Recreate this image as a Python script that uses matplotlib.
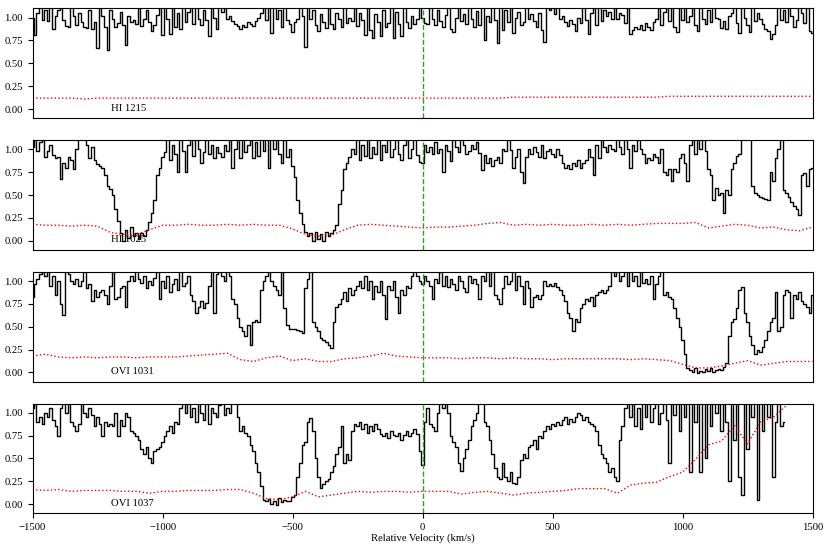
"""
plot.py - stacked velocity plots (HI / OVI) with error spectra
"""

import numpy as np
import matplotlib
matplotlib.use("Agg")
import matplotlib.pyplot as plt

plt.rcParams["font.family"] = ["Liberation Serif", "DejaVu Serif"]
plt.rcParams["font.size"] = 7.7

# velocity grids (km/s): start + step * index
FLUX_V0, FLUX_STEP = -1500, 10
ERR_V0, ERR_STEP = -1500, 50

line_names = ["HI 1215", "HI 1025", "OVI 1031", "OVI 1037"]

# ------------------------------------------------------------
#  normalised flux, one value per 10 km/s bin
# ------------------------------------------------------------
flux_hi1215 = [
    1.00, 0.81, 1.05, 1.12, 0.97, 1.08, 0.96, 1.12, 0.88, 1.02,
    1.08, 1.12, 0.97, 0.91, 0.90, 1.12, 1.02, 0.92, 1.05, 0.95,
    0.90, 0.89, 1.08, 0.88, 0.95, 0.67, 1.12, 1.02, 0.90, 0.65,
    1.08, 0.99, 0.90, 0.94, 1.06, 0.92, 0.70, 1.02, 0.95, 0.97,
    0.93, 1.12, 0.91, 0.98, 1.08, 0.95, 0.85, 0.92, 1.03, 1.12,
    0.81, 1.12, 0.98, 0.82, 1.12, 0.90, 1.05, 0.88, 1.12, 0.95,
    1.06, 1.12, 0.93, 1.12, 0.98, 0.92, 1.08, 0.97, 0.80, 1.12,
    1.00, 0.88, 1.12, 1.06, 1.12, 0.98, 1.02, 0.96, 0.93, 0.91,
    0.88, 0.92, 0.90, 0.95, 0.93, 0.91, 0.96, 1.00, 1.05, 1.12,
    0.97, 1.12, 0.83, 1.12, 0.99, 1.08, 0.90, 1.12, 0.97, 0.93,
    0.84, 0.95, 0.99, 1.12, 1.02, 0.68, 1.12, 0.98, 1.08, 0.92,
    0.85, 1.04, 0.95, 0.89, 1.12, 0.93, 0.88, 1.05, 0.98, 0.90,
    1.12, 0.94, 1.00, 0.96, 1.12, 0.91, 1.05, 0.97, 0.81, 1.12,
    0.86, 0.78, 1.04, 0.95, 0.80, 1.08, 0.90, 0.94, 1.12, 0.78,
    1.06, 0.93, 0.80, 1.12, 0.95, 0.89, 1.02, 0.93, 0.98, 1.12,
    1.00, 0.94, 0.93, 1.12, 0.98, 0.92, 1.08, 0.96, 0.90, 1.03,
    1.12, 0.88, 0.84, 1.00, 1.12, 0.96, 1.04, 0.93, 1.12, 0.98,
    0.90, 1.07, 0.92, 1.12, 0.75, 1.02, 0.95, 1.12, 0.97, 0.72,
    1.12, 0.86, 1.08, 0.95, 1.12, 0.83, 1.00, 1.06, 0.92, 0.95,
    1.12, 0.98, 1.04, 0.96, 0.90, 1.05, 0.87, 0.73, 1.12, 1.08,
    1.12, 1.04, 1.12, 0.98, 1.02, 0.95, 0.91, 0.97, 0.93, 0.85,
    1.00, 0.94, 1.12, 0.97, 0.82, 1.05, 1.12, 0.92, 1.12, 0.96,
    1.08, 1.02, 1.06, 0.98, 1.12, 0.99, 1.05, 1.03, 0.94, 1.12,
    0.82, 0.86, 0.90, 0.88, 0.92, 0.87, 0.94, 0.90, 0.86, 0.95,
    0.98, 1.12, 0.92, 1.06, 1.12, 0.96, 1.12, 0.90, 0.84, 1.12,
    0.97, 1.12, 0.95, 1.02, 1.12, 0.92, 0.85, 1.12, 0.98, 0.93,
    1.08, 0.95, 1.12, 1.00, 0.98, 0.89, 0.96, 0.88, 1.02, 1.05,
    1.12, 0.94, 0.83, 1.12, 1.00, 0.92, 0.84, 1.12, 0.96, 1.05,
    0.98, 0.93, 0.88, 0.85, 0.77, 0.82, 0.92, 1.12, 0.97, 1.08,
    0.95, 1.12, 1.02, 0.90, 0.97, 1.12, 1.05, 0.94, 1.12, 0.85,
    0.83,
]

flux_hi1025 = [
    1.02, 1.12, 0.98, 1.08, 1.12, 0.92, 0.98, 1.05, 0.94, 0.90,
    0.92, 0.68, 0.85, 0.80, 0.92, 0.88, 0.79, 1.00, 1.12, 1.12,
    1.12, 1.05, 0.90, 1.02, 0.88, 0.84, 0.82, 0.80, 0.72, 0.60,
    0.57, 0.50, 0.35, 0.22, 0.08, 0.00, 0.12, 0.03, 0.15, 0.05,
    0.09, 0.02, 0.08, 0.05, 0.12, 0.20, 0.30, 0.45, 0.72, 0.80,
    0.92, 0.97, 1.12, 0.88, 1.05, 0.95, 0.75, 1.12, 0.98, 0.75,
    1.05, 1.12, 0.93, 1.12, 1.00, 0.85, 0.97, 1.12, 0.95, 1.05,
    0.90, 1.02, 0.96, 0.92, 1.05, 0.98, 1.12, 0.80, 1.00, 1.12,
    0.90, 1.12, 0.97, 1.05, 1.12, 0.90, 1.08, 0.93, 1.12, 0.98,
    1.12, 0.80, 1.12, 1.00, 1.12, 0.95, 0.85, 1.10, 0.92, 1.00,
    0.82, 0.70, 0.45, 0.30, 0.18, 0.10, 0.05, 0.08, 0.00, 0.10,
    0.02, 0.07, 0.00, 0.10, 0.05, 0.08, 0.12, 0.17, 0.40, 0.55,
    0.78, 0.85, 0.92, 1.00, 0.95, 1.12, 0.88, 1.05, 0.93, 1.12,
    0.90, 1.02, 0.95, 1.12, 0.88, 1.05, 0.97, 1.12, 0.92, 1.00,
    1.12, 0.95, 0.88, 1.05, 1.12, 0.90, 1.00, 1.12, 0.94, 0.86,
    0.85, 1.05, 0.97, 1.02, 0.95, 1.08, 0.96, 1.00, 0.75, 1.05,
    0.98, 0.87, 1.12, 1.02, 0.97, 1.12, 1.05, 0.95, 0.98, 1.05,
    1.00, 1.08, 0.96, 0.77, 0.94, 0.85, 0.90, 0.82, 0.88, 0.92,
    0.85, 1.00, 0.98, 1.12, 0.99, 0.80, 0.92, 1.00, 0.75, 0.63,
    0.92, 1.00, 0.95, 1.02, 0.97, 0.92, 1.05, 0.90, 0.98, 1.00,
    0.95, 0.92, 1.00, 0.94, 0.85, 0.80, 0.83, 0.78, 0.85, 0.82,
    0.88, 0.80, 0.85, 0.88, 1.00, 0.92, 0.72, 1.05, 0.90, 1.12,
    1.02, 0.97, 1.05, 1.00, 0.98, 1.12, 1.03, 0.95, 1.12, 1.00,
    0.80, 1.05, 0.98, 1.12, 1.00, 0.95, 0.85, 0.90, 0.88, 0.95,
    0.92, 0.85, 1.00, 0.75, 0.72, 0.78, 0.65, 0.78, 0.75, 0.90,
    0.95, 0.85, 0.65, 1.05, 1.12, 0.95, 1.12, 1.00, 1.12, 0.98,
    0.78, 0.72, 0.45, 0.58, 0.50, 0.52, 0.30, 0.55, 0.50, 0.78,
    0.85, 0.93, 0.95, 1.12, 1.12, 1.12, 1.12, 0.60, 0.52, 0.50,
    0.48, 0.47, 0.46, 0.45, 0.75, 0.65, 0.90, 1.00, 1.12, 0.55,
    0.52, 0.48, 0.42, 0.38, 0.35, 0.28, 0.72, 0.74, 0.60, 0.78,
    0.80,
]

flux_ovi1031 = [
    0.83, 0.97, 1.02, 1.08, 1.12, 1.05, 1.12, 0.95, 1.06, 0.85,
    1.00, 0.75, 0.63, 1.12, 1.08, 1.00, 0.97, 1.02, 0.95, 1.00,
    1.12, 0.92, 0.97, 0.78, 0.90, 0.82, 0.88, 0.90, 0.85, 0.75,
    0.95, 1.12, 0.80, 0.82, 0.92, 0.95, 0.72, 1.00, 1.05, 1.00,
    1.12, 1.02, 0.98, 1.05, 0.92, 1.00, 0.96, 1.03, 1.12, 0.80,
    1.00, 0.92, 1.05, 0.88, 0.97, 1.02, 0.90, 1.12, 0.95, 0.98,
    1.05, 0.85, 0.78, 0.65, 0.72, 0.78, 0.70, 0.76, 0.95, 1.12,
    0.65, 1.08, 1.12, 1.05, 1.00, 1.12, 1.05, 0.80, 0.75, 0.60,
    0.50, 0.45, 0.40, 0.52, 0.30, 0.55, 0.57, 0.55, 0.90, 1.00,
    1.05, 1.12, 1.00, 0.95, 0.90, 0.85, 1.12, 0.70, 0.52, 0.47,
    0.48, 0.47, 0.46, 0.45, 0.43, 0.92, 1.02, 1.12, 0.55, 0.50,
    0.45, 0.38, 0.35, 0.33, 0.30, 0.27, 0.55, 0.72, 0.75, 0.80,
    0.88, 0.78, 0.92, 0.85, 0.90, 0.95, 1.00, 0.92, 1.05, 0.90,
    1.00, 0.80, 0.95, 0.88, 1.00, 0.85, 0.58, 0.95, 0.90, 1.00,
    0.82, 0.65, 0.90, 0.85, 0.95, 0.92, 1.05, 1.12, 1.05, 1.00,
    0.97, 1.05, 1.00, 0.95, 0.80, 1.02, 0.98, 1.10, 0.95, 1.05,
    0.93, 1.02, 0.97, 0.90, 1.05, 1.00, 0.92, 0.88, 1.05, 0.98,
    1.02, 0.97, 0.80, 1.05, 1.00, 1.12, 0.95, 1.12, 0.85, 0.80,
    0.75, 0.92, 1.05, 0.97, 1.00, 1.12, 0.90, 1.05, 0.95, 0.75,
    1.00, 0.92, 0.72, 0.82, 0.85, 0.80, 0.85, 1.00, 0.95, 0.97,
    0.95, 0.98, 0.94, 0.90, 0.85, 0.78, 0.65, 0.60, 0.45, 0.58,
    0.55, 0.70, 0.75, 0.80, 0.78, 0.82, 0.73, 0.85, 0.88, 0.90,
    0.87, 0.90, 0.95, 1.12, 1.05, 1.12, 1.00, 1.05, 1.12, 0.95,
    1.12, 1.00, 1.05, 0.95, 1.12, 0.98, 1.02, 0.97, 1.05, 0.80,
    0.97, 1.05, 1.12, 0.85, 0.88, 0.82, 0.80, 0.70, 0.60, 0.50,
    0.35, 0.20, 0.05, 0.03, 0.00, 0.05, -0.01, 0.02, 0.00, 0.04,
    0.02, 0.05, 0.01, 0.03, 0.04, 0.03, 0.06, 0.10, 0.40, 0.55,
    0.58, 0.70, 0.90, 0.93, 0.65, 0.55, 0.40, 0.30, 0.20, 0.25,
    0.22, 0.28, 0.35, 0.45, 0.55, 0.60, 0.88, 0.45, 0.50, 0.85,
    0.90, 0.88, 0.60, 0.85, 0.80, 0.88, 0.78, 0.75, 0.72, 0.65,
    0.85,
]

flux_ovi1037 = [
    1.05, 1.12, 0.90, 0.95, 0.88, 1.00, 0.95, 1.05, 0.92, 0.85,
    0.75, 1.05, 1.12, 1.00, 1.12, 0.90, 0.85, 0.80, 0.88, 1.12,
    1.00, 0.95, 1.05, 0.98, 0.85, 0.95, 0.88, 0.75, 0.90, 0.85,
    0.88, 0.85, 1.00, 0.75, 0.92, 0.85, 1.00, 0.95, 0.80, 0.78,
    0.75, 0.70, 0.60, 0.55, 0.62, 0.50, 0.45, 0.58, 0.60, 0.62,
    0.68, 0.75, 0.80, 0.85, 0.78, 0.90, 0.88, 1.05, 1.12, 1.00,
    1.12, 0.95, 1.05, 0.90, 1.12, 1.00, 0.92, 1.12, 0.88, 1.05,
    1.00, 0.95, 1.08, 1.12, 0.98, 1.05, 1.00, 1.12, 1.12, 0.95,
    0.80, 0.85, 0.78, 0.75, 0.65, 0.58, 0.45, 0.35, 0.20, 0.05,
    0.03, 0.06, 0.00, 0.04, -0.01, 0.07, 0.02, 0.05, 0.03, 0.04,
    0.08, 0.10, 0.30, 0.45, 0.65, 0.68, 0.90, 0.94, 0.80, 0.50,
    0.30, 0.18, 0.22, 0.25, 0.28, 0.35, 0.42, 0.55, 0.62, 0.85,
    0.45, 0.55, 0.48, 0.80, 0.88, 0.85, 0.90, 0.82, 0.88, 0.78,
    0.85, 0.80, 0.88, 0.82, 0.77, 0.75, 0.78, 0.72, 0.80, 0.76,
    0.75, 0.78, 0.70, 0.76, 0.80, 0.74, 0.78, 0.82, 0.77, 0.58,
    0.43, 0.90, 1.05, 0.88, 0.84, 0.80, 1.00, 1.12, 1.05, 1.12,
    1.00, 0.75, 0.68, 0.62, 0.45, 0.36, 0.50, 0.60, 0.70, 0.85,
    0.92, 1.00, 1.12, 1.12, 0.90, 0.85, 0.70, 0.55, 0.40, 0.30,
    0.28, 0.45, 0.30, 0.25, 0.35, 0.23, 0.22, 0.30, 0.48, 0.55,
    0.50, 0.62, 0.65, 0.70, 0.60, 0.75, 0.72, 0.80, 0.85, 0.82,
    0.88, 0.85, 0.90, 0.87, 0.92, 0.95, 0.88, 0.93, 0.90, 0.95,
    1.00, 0.97, 0.92, 0.95, 0.90, 0.88, 0.85, 0.80, 0.65, 0.55,
    0.50, 0.45, 0.35, 0.40, 0.30, 0.25, 0.70, 0.85, 1.05, 1.12,
    0.95, 1.12, 0.85, 1.05, 0.82, 1.12, 0.95, 1.12, 0.90, 1.05,
    1.12, 0.88, 1.00, 1.12, 0.92, 0.45, 1.12, 0.98, 1.12, 0.80,
    1.12, 0.95, 1.12, 0.35, 1.12, 0.90, 1.12, 0.35, 1.12, 0.50,
    1.12, 0.85, 1.12, 1.00, 1.12, 0.80, 1.12, 0.90, 0.25, 1.12,
    0.70, 1.12, 0.30, 0.10, 1.12, 0.60, 1.12, 0.95, 1.12, 0.05,
    1.12, 0.80, 1.12, 0.95, 1.12, 0.30, 0.90, 1.12, 0.85, 0.90,
]

# ------------------------------------------------------------
#  error spectra, one value per 50 km/s
# ------------------------------------------------------------
err_hi1215 = [
    0.12, 0.12, 0.12, 0.12, 0.11, 0.12, 0.12, 0.12, 0.12, 0.12,
    0.12, 0.12, 0.12, 0.12, 0.12, 0.12, 0.12, 0.12, 0.12, 0.12,
    0.12, 0.12, 0.12, 0.12, 0.12, 0.12, 0.12, 0.12, 0.12, 0.12,
    0.12, 0.12, 0.12, 0.12, 0.12, 0.12, 0.12, 0.13, 0.13, 0.13,
    0.13, 0.13, 0.13, 0.13, 0.13, 0.13, 0.13, 0.13, 0.13, 0.14,
    0.14, 0.14, 0.14, 0.14, 0.14, 0.14, 0.14, 0.14, 0.14, 0.14,
    0.14,
]

err_hi1025 = [
    0.18, 0.17, 0.17, 0.16, 0.17, 0.16, 0.09, 0.07, 0.07, 0.12,
    0.17, 0.17, 0.18, 0.17, 0.17, 0.18, 0.17, 0.18, 0.17, 0.17,
    0.13, 0.07, 0.05, 0.06, 0.12, 0.17, 0.18, 0.17, 0.16, 0.15,
    0.14, 0.15, 0.15, 0.16, 0.17, 0.19, 0.20, 0.17, 0.18, 0.17,
    0.18, 0.17, 0.17, 0.18, 0.17, 0.18, 0.17, 0.18, 0.19, 0.19,
    0.19, 0.20, 0.14, 0.16, 0.18, 0.17, 0.14, 0.15, 0.12, 0.11,
    0.15,
]

err_ovi1031 = [
    0.18, 0.20, 0.17, 0.16, 0.17, 0.16, 0.17, 0.17, 0.16, 0.17,
    0.17, 0.17, 0.18, 0.19, 0.20, 0.21, 0.14, 0.12, 0.16, 0.18,
    0.13, 0.15, 0.12, 0.12, 0.15, 0.16, 0.18, 0.21, 0.18, 0.17,
    0.16, 0.16, 0.16, 0.15, 0.16, 0.16, 0.15, 0.16, 0.15, 0.15,
    0.14, 0.15, 0.15, 0.15, 0.15, 0.15, 0.14, 0.15, 0.14, 0.13,
    0.09, 0.05, 0.05, 0.07, 0.10, 0.13, 0.08, 0.10, 0.12, 0.12,
    0.12,
]

err_ovi1037 = [
    0.16, 0.15, 0.16, 0.14, 0.15, 0.15, 0.15, 0.14, 0.14, 0.12,
    0.14, 0.14, 0.15, 0.15, 0.15, 0.16, 0.16, 0.12, 0.06, 0.05,
    0.08, 0.14, 0.08, 0.10, 0.12, 0.14, 0.13, 0.14, 0.14, 0.13,
    0.14, 0.14, 0.14, 0.11, 0.13, 0.14, 0.12, 0.10, 0.12, 0.13,
    0.14, 0.15, 0.17, 0.17, 0.17, 0.12, 0.21, 0.23, 0.24, 0.30,
    0.35, 0.49, 0.65, 0.69, 0.86, 0.66, 0.90, 0.95, 1.08,
]

flux_all = [flux_hi1215, flux_hi1025, flux_ovi1031, flux_ovi1037]
err_all = [err_hi1215, err_hi1025, err_ovi1031, err_ovi1037]


def main():
    fig, axes = plt.subplots(4, 1, figsize=(8.38, 5.44), dpi=100, sharex=True)
    fig.subplots_adjust(left=0.0388, right=0.9696, top=0.9844, bottom=0.0564,
                        hspace=0.2)

    for ax, name, flux, err in zip(axes, line_names, flux_all, err_all):
        v = FLUX_V0 + FLUX_STEP * np.arange(len(flux))
        ve = ERR_V0 + ERR_STEP * np.arange(len(err))

        ax.plot(v, flux, color="black", lw=1.0, drawstyle="steps-mid")
        ax.plot(ve, err, color="red", lw=1.0, ls=":")
        ax.axvline(0, color="#2ca02c", ls="--", lw=1.0)

        ax.text(-1200, 0.01, name, ha="left", va="center")

        ax.set_xlim(-1500, 1500)
        ax.set_ylim(-0.1, 1.1)
        ax.set_yticks([0.0, 0.25, 0.5, 0.75, 1.0])
        ax.set_yticklabels(["0.00", "0.25", "0.50", "0.75", "1.00"])

    # only the bottom panel carries x ticks
    for ax in axes[:-1]:
        ax.tick_params(axis="x", bottom=False, labelbottom=False)

    axes[-1].set_xticks([-1500, -1000, -500, 0, 500, 1000, 1500])
    axes[-1].set_xlabel("Relative Velocity (km/s)", labelpad=1)

    fig.savefig("out.png", dpi=100)
    plt.close(fig)


if __name__ == "__main__":
    main()
